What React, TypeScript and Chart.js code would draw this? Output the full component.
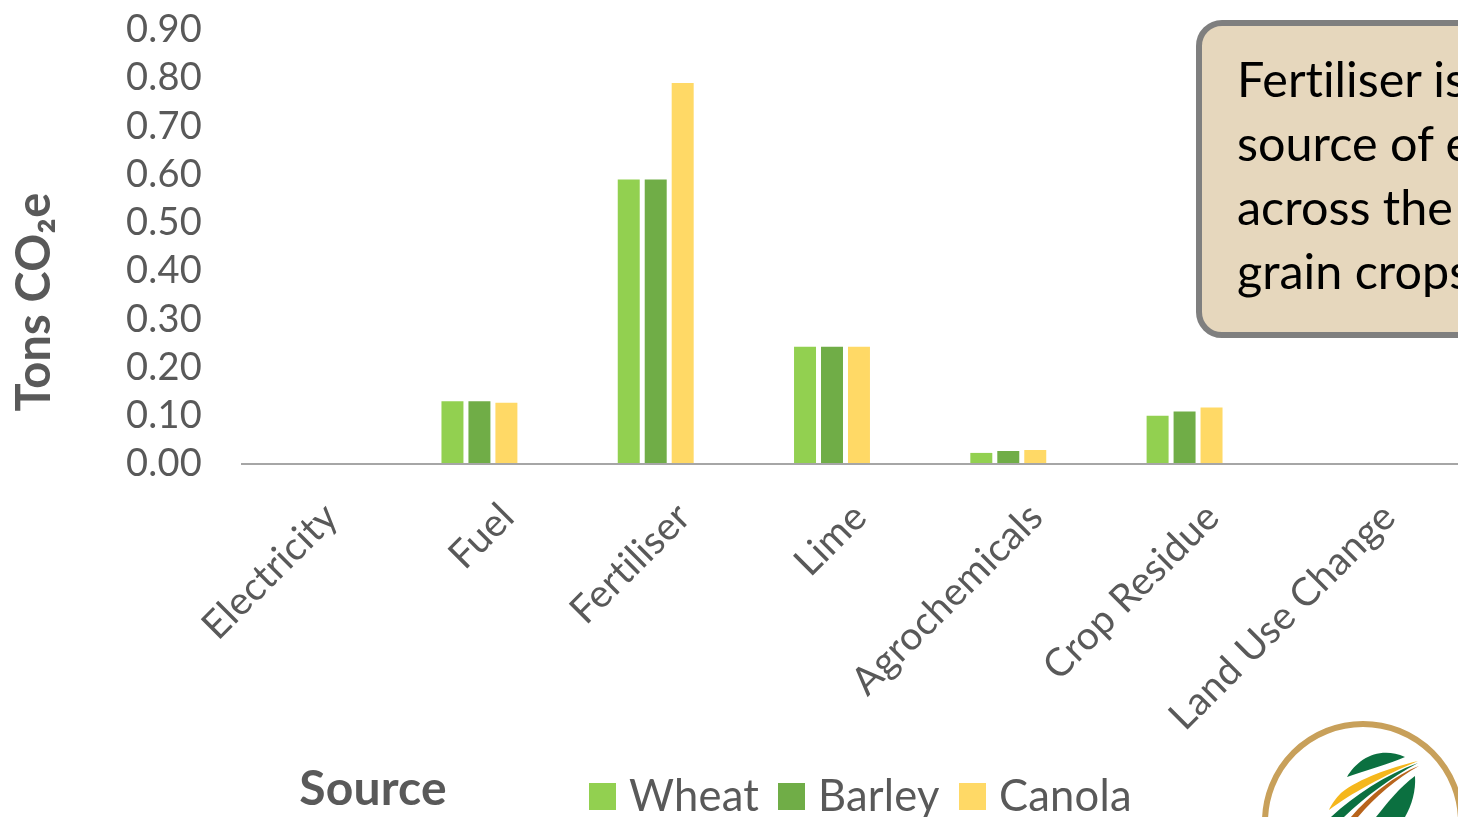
import React, { useEffect, useRef } from "react";
import { Chart, registerables } from "chart.js";

Chart.register(...registerables);

const categories = ["Electricity", "Fuel", "Fertiliser", "Lime", "Agrochemicals", "Crop Residue", "Land Use Change"];
const wheat = [0, 0.13, 0.59, 0.243, 0.023, 0.1, 0];
const barley = [0, 0.13, 0.59, 0.243, 0.027, 0.109, 0];
const canola = [0, 0.127, 0.79, 0.243, 0.029, 0.117, 0];
const seriesNames = ["Wheat", "Barley", "Canola"];
const seriesColours = ["#92d050", "#70ad47", "#ffd966"];
const calloutLines = ["Fertiliser is the", "source of emissions", "across the", "grain crops."];

const FONT = "Lato, Carlito, sans-serif";
const TEXT = "#595959";

// Axis titles, legend row and the baseline sit at fixed spots outside the usual chart layout.
const furniture = {
  id: "furniture",
  beforeDraw(chart: any) {
    // A small tracking value also switches off the "ti" ligature in Lato.
    chart.ctx.letterSpacing = "0.2px";
  },
  afterDatasetsDraw(chart: any) {
    const { ctx, scales } = chart;
    const y0 = scales.y.getPixelForValue(0);
    ctx.save();
    ctx.strokeStyle = "#a6a6a6";
    ctx.lineWidth = 2;
    ctx.beginPath();
    ctx.moveTo(241, y0);
    ctx.lineTo(chart.width, y0);
    ctx.stroke();

    ctx.fillStyle = TEXT;
    ctx.textBaseline = "alphabetic";
    ctx.textAlign = "center";
    ctx.font = `bold 48px ${FONT}`;
    ctx.fillText("Source", 373, 805);

    ctx.save();
    ctx.translate(50, 302);
    ctx.rotate(-Math.PI / 2);
    ctx.font = `bold 47px ${FONT}`;
    ctx.fillText("Tons CO\u2082e", 0, 0);
    ctx.restore();

    const swatchX = [589, 778, 959];
    ctx.textAlign = "left";
    ctx.font = `43.5px ${FONT}`;
    chart.data.datasets.forEach((d: any, i: number) => {
      ctx.fillStyle = d.backgroundColor;
      ctx.fillRect(swatchX[i], 783, 27, 27);
      ctx.fillStyle = TEXT;
      ctx.fillText(d.label, swatchX[i] + 40, 811);
    });
    ctx.restore();
  },
};

export default function App() {
  const ref = useRef<HTMLCanvasElement>(null);

  useEffect(() => {
    const chart = new Chart(ref.current!, {
      type: "bar",
      data: {
        labels: categories,
        datasets: [wheat, barley, canola].map((data, i) => ({
          label: seriesNames[i],
          data,
          backgroundColor: seriesColours[i],
          categoryPercentage: 0.459,
          barPercentage: 0.815,
        })),
      },
      options: {
        responsive: false,
        animation: false,
        layout: { padding: { top: 30, right: 9, left: 0, bottom: 0 } },
        plugins: { legend: { display: false }, tooltip: { enabled: false } },
        scales: {
          x: {
            afterFit: (s: any) => { s.height = 353; },
            grid: { display: false },
            border: { display: false },
            ticks: {
              color: TEXT,
              font: { family: FONT, size: 39 },
              minRotation: 45,
              maxRotation: 45,
              autoSkip: false,
              padding: 22,
              labelOffset: 28,
            },
          },
          y: {
            min: 0,
            max: 0.9,
            afterFit: (s: any) => { s.width = 215; s.paddingTop = 0; s.paddingBottom = 0; },
            grid: { display: false },
            border: { display: false },
            ticks: {
              color: TEXT,
              stepSize: 0.1,
              autoSkip: false,
              padding: 5,
              font: { family: FONT, size: 38 },
              callback: (v: any) => Number(v).toFixed(2),
            },
          },
        },
      },
      plugins: [furniture],
    } as any);
    return () => chart.destroy();
  }, []);

  return (
    <div style={{ position: "fixed", left: 0, top: 0, width: 1458, height: 817, overflow: "hidden", background: "#fff" }}>
      <canvas ref={ref} width={1458} height={817} style={{ position: "absolute", left: 0, top: 0, display: "block" }} />
      <div
        style={{
          position: "absolute",
          left: 1196,
          top: 20,
          width: 420,
          height: 318,
          boxSizing: "border-box",
          background: "#e6d7bd",
          border: "6px solid #7f7f7f",
          borderRadius: 26,
          paddingLeft: 35,
          paddingTop: 20,
          fontFamily: FONT,
          fontSize: 48.5,
          lineHeight: "64px",
          fontVariantLigatures: "none",
          color: "#000",
          whiteSpace: "nowrap",
        }}
      >
        {calloutLines.map((l) => (
          <div key={l}>{l}</div>
        ))}
      </div>
      <svg width={228} height={117} viewBox="1230 700 228 117" style={{ position: "absolute", left: 1230, top: 700 }}>
        <circle cx={1363} cy={822} r={98} fill="#fff" stroke="#c8a05a" strokeWidth={6} />
        <path d="M1347 777 C1358 758 1380 746 1405 757 C1390 764 1366 770 1347 777 Z" fill="#0b7040" />
        <path d="M1418 761 C1390 768 1360 778 1341 793 C1336 798 1331 805 1329 810 C1350 794 1385 775 1418 761 Z" fill="#f5b71c" />
        <path d="M1418 763 C1385 775 1355 795 1331 817 L1344 817 C1365 797 1390 778 1418 763 Z" fill="#0b7040" />
        <path d="M1419 766 C1395 775 1370 795 1351 817 L1358 817 C1375 797 1397 778 1419 766 Z" fill="#b8641c" />
        <path d="M1415 776 C1400 787 1388 802 1376 817 L1405 817 C1412 805 1416 790 1415 776 Z" fill="#0b7040" />
      </svg>
    </div>
  );
}
